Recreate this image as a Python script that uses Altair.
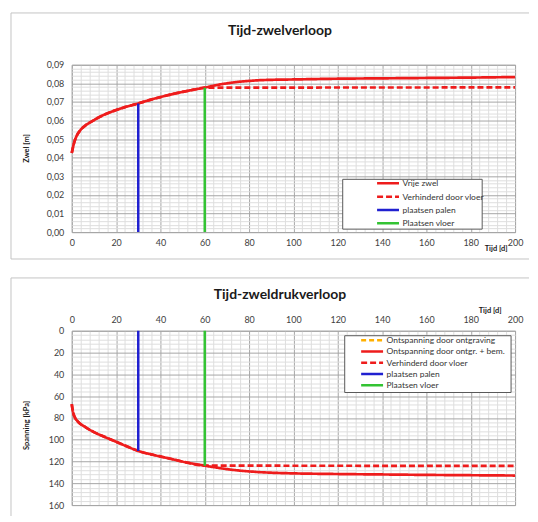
import altair as alt
import pandas as pd

FONT = "Lato"

# ---------------- data: top chart (Tijd-zwelverloop) ----------------
t_zwel = [0, 1, 2, 4, 6, 9, 14, 19, 24, 30, 35, 40, 45, 50, 55, 60,
          65, 70, 75, 80, 85, 90, 100, 120, 140, 160, 180, 200]
zwel_vrij = [0.0425, 0.0478, 0.0512, 0.0550, 0.0572, 0.0595, 0.0628, 0.0652, 0.0672,
             0.0692, 0.0710, 0.0726, 0.0741, 0.0754, 0.0766, 0.0777,
             0.0790, 0.0800, 0.0808, 0.0813, 0.0817, 0.0819, 0.0821, 0.0825, 0.0827,
             0.0829, 0.0831, 0.0834]
zwel_vloer_flat = 0.0778

# ---------------- data: bottom chart (Tijd-zweldrukverloop) ----------------
t_span = [0, 0.6, 1.4, 2.8, 5.8, 10, 15, 19, 24, 30, 37, 45, 52, 60,
          65, 70, 75, 80, 85, 90, 100, 120, 140, 160, 180, 200]
spanning = [67.4, 75, 79.5, 83.5, 88, 93, 97.6, 101, 105.4, 110.3, 114, 117.7, 121, 123.8,
            125.5, 127, 128.2, 129.1, 129.8, 130.3, 130.9, 131.5, 131.9, 132.3, 132.6, 132.9]
span_vloer_flat = 124.0

t_palen = 30
t_vloer = 60
zwel_palen = 0.0692
zwel_vloer = 0.0777
span_palen = 110.3
span_vloer = 123.8

top_names = ["Vrije zwel", "Verhinderd door vloer", "plaatsen palen", "Plaatsen vloer"]
top_colors = ["#ee1c1c", "#ee1c1c", "#2020d0", "#33c333"]
top_dash = [[1, 0], [6, 3], [1, 0], [1, 0]]

bot_names = ["Ontspanning door ontgraving", "Ontspanning door ontgr. + bem.",
             "Verhinderd door vloer", "plaatsen palen", "Plaatsen vloer"]
bot_colors = ["#ffb000", "#ee1c1c", "#ee1c1c", "#2020d0", "#33c333"]
bot_dash = [[5, 3], [1, 0], [6, 3], [1, 0], [1, 0]]

x_ticks = list(range(0, 201, 4))
zwel_ticks = [round(i * 0.002, 3) for i in range(46)]
span_ticks = list(range(0, 161, 4))

# ---------------- build tables ----------------
rows = []
for t, v in zip(t_zwel, zwel_vrij):
    rows.append({"series": "Vrije zwel", "t": t, "v": v})
for t, v in zip(t_zwel, zwel_vrij):
    if t <= t_vloer:
        rows.append({"series": "Verhinderd door vloer", "t": t, "v": v})
rows.append({"series": "Verhinderd door vloer", "t": 200, "v": zwel_vloer_flat})
top_lines = pd.DataFrame(rows)
top_rules = pd.DataFrame([
    {"series": "plaatsen palen", "t": t_palen, "y0": 0, "y1": zwel_palen},
    {"series": "Plaatsen vloer", "t": t_vloer, "y0": 0, "y1": zwel_vloer},
])

rows = []
for t, v in zip(t_span, spanning):
    rows.append({"series": "Ontspanning door ontgr. + bem.", "t": t, "v": v})
for t, v in zip(t_span, spanning):
    if t <= t_vloer:
        rows.append({"series": "Verhinderd door vloer", "t": t, "v": v})
rows.append({"series": "Verhinderd door vloer", "t": 200, "v": span_vloer_flat})
bot_lines = pd.DataFrame(rows)
bot_rules = pd.DataFrame([
    {"series": "plaatsen palen", "t": t_palen, "y0": 0, "y1": span_palen},
    {"series": "Plaatsen vloer", "t": t_vloer, "y0": 0, "y1": span_vloer},
])

one = pd.DataFrame({"k": [0]})

MAJOR = "#a6a6a6"
MINOR = "#dedede"
W = 445
BORDER = "#c4c4c4"


def legend(x, y, row_pad):
    return alt.Legend(title=None, orient="none", legendX=x, legendY=y,
                      symbolType="M-4.5,0H1", symbolSize=64, symbolStrokeWidth=2.5,
                      labelFont=FONT, labelFontSize=8.5, labelColor="#333333",
                      padding=0, rowPadding=row_pad, labelOffset=2, labelLimit=400)


def x_axis(orient):
    return alt.Axis(values=x_ticks, title=None, orient=orient, ticks=False, domain=False,
                    labelExpr="datum.value % 20 === 0 ? datum.label : ''",
                    labelOverlap=False, labelFlush=False, labelFont=FONT,
                    labelFontSize=9, labelColor="#404040", labelPadding=6,
                    gridColor={"condition": {"test": "datum.value % 20 === 0", "value": MAJOR},
                               "value": MINOR})


def hline(x1, x2, y):
    return alt.Chart(one).mark_rule(color=BORDER, strokeWidth=1).encode(
        x=alt.value(x1), x2=alt.value(x2), y=alt.value(y))


def vline(x, y1, y2):
    return alt.Chart(one).mark_rule(color=BORDER, strokeWidth=1).encode(
        x=alt.value(x), y=alt.value(y1), y2=alt.value(y2))


def box(x1, x2, y1, y2):
    return alt.Chart(one).mark_rect(fill="white", stroke="#595959", strokeWidth=1).encode(
        x=alt.value(x1), x2=alt.value(x2), y=alt.value(y1), y2=alt.value(y2))


def text(s, x, y, size, angle=0):
    kw = dict(text=s, font=FONT, fontSize=size, color="#1a1a1a",
              fontWeight="bold", align="center", baseline="middle")
    if angle:
        kw["angle"] = angle
    return alt.Chart(one).mark_text(**kw).encode(x=alt.value(x), y=alt.value(y))


# ---------------- top chart ----------------
H1 = 168
xs1 = alt.Scale(domain=[0, 200], nice=False)
ys1 = alt.Scale(domain=[0, 0.09], nice=False)
y_axis1 = alt.Axis(values=zwel_ticks, title=None, ticks=False, domain=False, format=".2f",
                   labelExpr="round(datum.value*1000) % 10 === 0 ? replace(datum.label, '.', ',') : ''",
                   labelOverlap=False, labelFont=FONT, labelFontSize=9,
                   labelColor="#404040", labelPadding=8,
                   gridColor={"condition": {"test": "round(datum.value*1000) % 10 === 0",
                                            "value": MAJOR}, "value": MINOR})
leg1 = legend(319, 113.5, 2.4)
col1 = alt.Color("series:N", scale=alt.Scale(domain=top_names, range=top_colors), legend=leg1)
dash1 = alt.StrokeDash("series:N", scale=alt.Scale(domain=top_names, range=top_dash),
                       legend=leg1)

lines1 = alt.Chart(top_lines).mark_line(strokeWidth=2.7, interpolate="monotone").encode(
    x=alt.X("t:Q", scale=xs1, axis=x_axis("bottom")),
    y=alt.Y("v:Q", scale=ys1, axis=y_axis1),
    color=col1, strokeDash=dash1, order="t:Q")
rules1 = alt.Chart(top_rules).mark_rule(strokeWidth=2.5).encode(
    x=alt.X("t:Q", scale=xs1, axis=x_axis("bottom")),
    y=alt.Y("y0:Q", scale=ys1, axis=y_axis1), y2="y1:Q",
    color=col1, strokeDash=dash1)

top = alt.layer(
    hline(-61, 459, -52), vline(-61, -52, 195), hline(-61, 459, 195),
    text("Tijd-zwelverloop", 209, -34, 14),
    text("Zwel [m]", -45, 84, 7.5, angle=270),
    text("Tijd [d]", 426, 185, 7.5),
    lines1, rules1,
    box(272, 412, 115, 165),
).properties(width=W, height=H1)

# ---------------- bottom chart ----------------
H2 = 175
xs2 = alt.Scale(domain=[0, 200], nice=False)
ys2 = alt.Scale(domain=[0, 160], nice=False, reverse=True)
y_axis2 = alt.Axis(values=span_ticks, title=None, ticks=False, domain=False,
                   labelExpr="datum.value % 20 === 0 ? datum.label : ''",
                   labelOverlap=False, labelFont=FONT, labelFontSize=9,
                   labelColor="#404040", labelPadding=8,
                   gridColor={"condition": {"test": "datum.value % 20 === 0", "value": MAJOR},
                              "value": MINOR})
leg2 = legend(303, 4, 0.3)
col2 = alt.Color("series:N", scale=alt.Scale(domain=bot_names, range=bot_colors), legend=leg2)
dash2 = alt.StrokeDash("series:N", scale=alt.Scale(domain=bot_names, range=bot_dash),
                       legend=leg2)

lines2 = alt.Chart(bot_lines).mark_line(strokeWidth=2.7, interpolate="monotone").encode(
    x=alt.X("t:Q", scale=xs2, axis=x_axis("top")),
    y=alt.Y("v:Q", scale=ys2, axis=y_axis2),
    color=col2, strokeDash=dash2, order="t:Q")
rules2 = alt.Chart(bot_rules).mark_rule(strokeWidth=2.5).encode(
    x=alt.X("t:Q", scale=xs2, axis=x_axis("top")),
    y=alt.Y("y0:Q", scale=ys2, axis=y_axis2), y2="y1:Q",
    color=col2, strokeDash=dash2)

bottom = alt.layer(
    hline(-61, 459, -53), vline(-61, -53, 186),
    text("Tijd-zweldrukverloop", 209, -36, 14),
    text("Spanning [kPa]", -45, 95, 7.5, angle=270),
    text("Tijd [d]", 420, -20, 7.5),
    lines2, rules2,
    box(274, 441, 5, 62),
).properties(width=W, height=H2)

chart = alt.vconcat(top, bottom, spacing=17).resolve_scale(
    color="independent", strokeDash="independent", x="independent", y="independent"
).properties(
    padding={"left": 2, "top": 3, "right": 0, "bottom": 0},
    background="white",
).configure_view(stroke="#a6a6a6", strokeWidth=1)

chart.save("out.html", embed_options={"renderer": "svg", "actions": False})
